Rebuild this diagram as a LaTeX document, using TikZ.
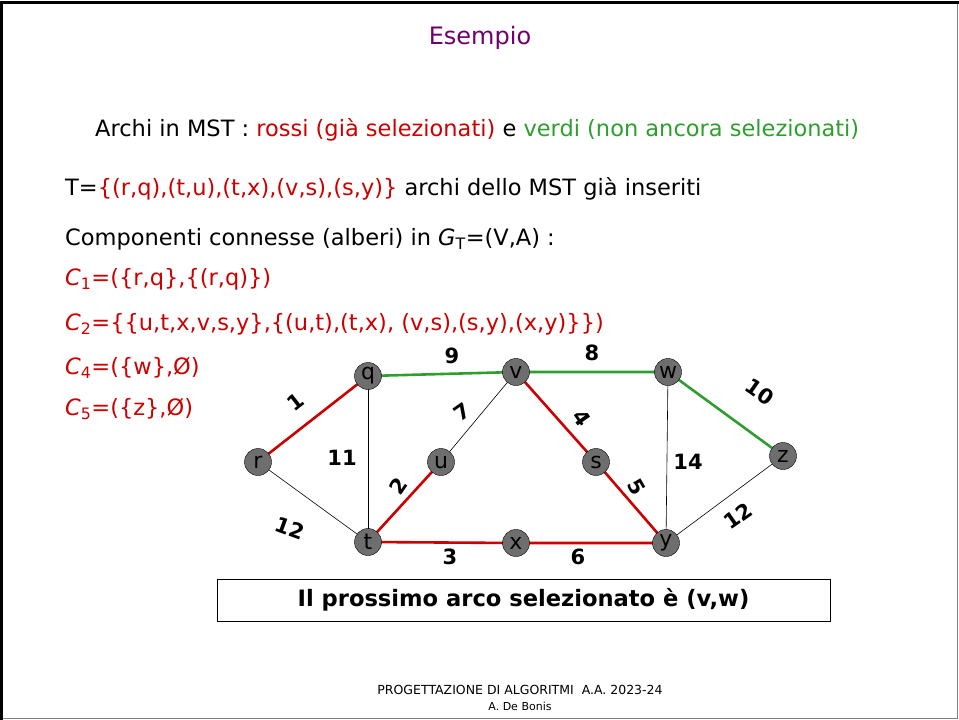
\documentclass[tikz,border=0pt]{standalone}
\usepackage{fontspec}
\setmainfont{DejaVu Sans}
\usetikzlibrary{positioning}
\definecolor{SlideRed}{HTML}{CC0000}
\definecolor{SlideGreen}{HTML}{2E9E2E}
\definecolor{SlideTitle}{HTML}{700070}
\definecolor{VertexFill}{HTML}{6E6E6E}
\definecolor{FrameGray}{HTML}{808080}
\tikzset{
  every node/.style={text=black, inner sep=0pt},
  line/.style={font=\fontsize{22.5}{26}\selectfont, anchor=base west},
  vertex/.style={circle, draw=black, fill=VertexFill, minimum size=27pt, inner sep=0pt, font=\fontsize{22}{22}\selectfont},
  weight/.style={font=\bfseries\fontsize{21}{21}\selectfont},
  chosen/.style={draw=SlideRed, line width=2.6pt},
  candidate/.style={draw=SlideGreen, line width=2.6pt},
  plain/.style={draw=black, line width=0.6pt},
}

\begin{document}
\begin{tikzpicture}[x=1pt,y=-1pt]
  \useasboundingbox (0,0) rectangle (959,720);
  % Slide frame
  \draw[FrameGray, line width=1pt] (1,718.5) -- (957.5,718.5) -- (957.5,2);
  \draw[black, line width=3pt] (1.5,720) -- (1.5,2.5) -- (959,2.5);
  % Title and text lines
  \node[font=\fontsize{24}{28}\selectfont, text=SlideTitle] (title) at (480,38) {Esempio};
  \node[line] (legend) at (95,136) {Archi in MST : \textcolor{SlideRed}{rossi (già selezionati)} e \textcolor{SlideGreen}{verdi (non ancora selezionati)}};
  \node[line] (treeT) at (65,195) {T=\textcolor{SlideRed}{\{(r,q),(t,u),(t,x),(v,s),(s,y)\}} archi dello MST già inseriti};
  \node[line] (comps) at (65,245) {Componenti connesse (alberi) in \textit{G}\textsubscript{T}=(V,A) :};
  \node[line, text=SlideRed] (compA) at (65,285) {\textit{C}\textsubscript{1}=(\{r,q\},\{(r,q)\})};
  \node[line, text=SlideRed] (compB) at (65,330) {\textit{C}\textsubscript{2}=\{\{u,t,x,v,s,y\},\{(u,t),(t,x), (v,s),(s,y),(x,y)\}\})};
  \node[line, text=SlideRed] (compD) at (65,374) {\textit{C}\textsubscript{4}=(\{w\},Ø)};
  \node[line, text=SlideRed] (compE) at (65,415) {\textit{C}\textsubscript{5}=(\{z\},Ø)};
  % Vertex positions, edges first, vertices on top
  \foreach \n/\x/\y in {q/368/376, v/516/372, w/668/372, r/258/462, u/441/462,
                        s/596/462, z/783/456, t/368/542, x/516/543, y/666/543}
    \coordinate (p\n) at (\x,\y);
  \draw[plain] (pq) -- (pt);
  \draw[plain] (pr) -- (pt);
  \draw[plain] (pv) -- (pu);
  \draw[plain] (pw) -- (py);
  \draw[plain] (pz) -- (py);
  \draw[chosen] (pr) -- (pq);
  \draw[chosen] (pv) -- (ps);
  \draw[chosen] (pt) -- (pu);
  \draw[chosen] (ps) -- (py);
  \draw[chosen] (pt) -- (px) -- (py);
  \draw[candidate] (pq) -- (pv) -- (pw) -- (pz);
  \foreach \n in {q,v,w,r,u,s,z,t,x,y}
    \node[vertex] (\n) at (p\n) {\n};
  % Weights
  \node[weight, rotate=38] (wrq) at (296,402) {1};
  \node[weight] (wqv) at (452,356) {9};
  \node[weight] (wvw) at (592,353) {8};
  \node[weight, rotate=-35] (wwz) at (760,392) {10};
  \node[weight] (wqt) at (342,458) {11};
  \node[weight, rotate=-20] (wrt) at (290,528) {12};
  \node[weight, rotate=35] (wvu) at (462,412) {7};
  \node[weight, rotate=-55] (wvs) at (582,418) {4};
  \node[weight, rotate=55] (wtu) at (398,486) {2};
  \node[weight, rotate=-60] (wsy) at (637,487) {5};
  \node[weight] (wwy) at (688,462) {14};
  \node[weight, rotate=35] (wzy) at (738,516) {12};
  \node[weight] (wtx) at (450,557) {3};
  \node[weight] (wxy) at (578,557) {6};
  % Result box
  \node[draw=black, line width=0.8pt, minimum width=613pt, minimum height=42pt,
        font=\bfseries\fontsize{22.6}{26}\selectfont] (result) at (523.5,600) {Il prossimo arco selezionato è (v,w)};
  % Footer
  \node[font=\fontsize{12.5}{14}\selectfont] (course) at (520,690) {PROGETTAZIONE DI ALGORITMI~~A.A. 2023-24};
  \node[font=\fontsize{11}{13}\selectfont] (author) at (520,706) {A. De Bonis};
\end{tikzpicture}
\end{document}
